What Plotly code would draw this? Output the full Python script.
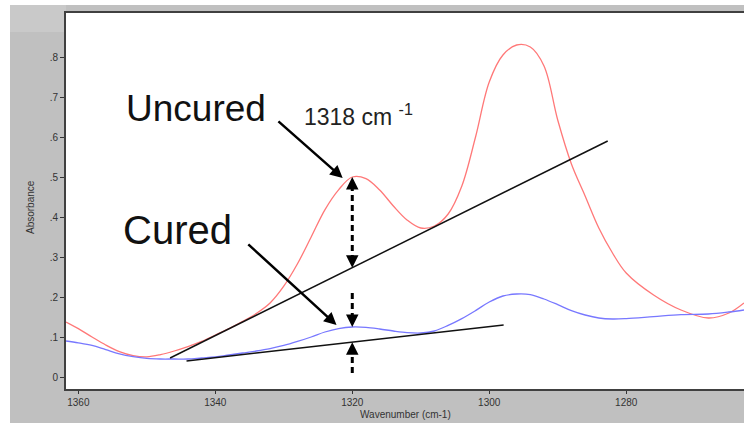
import numpy as np
import plotly.graph_objects as go

# ---------------- data ----------------
wavenumber = [1361.8, 1360, 1358, 1356, 1354, 1352, 1350, 1348, 1346, 1344, 1342, 1340,
              1338, 1336, 1334, 1332, 1330, 1328, 1326, 1324, 1322, 1320, 1318, 1316,
              1314, 1312, 1310, 1308, 1306, 1304, 1302, 1300, 1298, 1296, 1294, 1292,
              1290, 1288, 1286, 1284, 1282, 1280, 1276, 1272, 1268, 1265, 1262.8]
absorbance_uncured = [0.1375, 0.121, 0.100, 0.080, 0.0635, 0.0535, 0.0505, 0.056, 0.065,
                      0.076, 0.089, 0.105, 0.121, 0.139, 0.159, 0.185, 0.227, 0.283,
                      0.350, 0.418, 0.468, 0.500, 0.496, 0.4675, 0.4275, 0.3925, 0.3725,
                      0.3775, 0.4075, 0.4775, 0.600, 0.7375, 0.805, 0.830, 0.825, 0.7775,
                      0.6425, 0.5325, 0.4525, 0.3725, 0.310, 0.260, 0.205, 0.1675, 0.1475,
                      0.160, 0.185]
absorbance_cured = [0.090, 0.0855, 0.079, 0.0685, 0.058, 0.051, 0.0465, 0.045, 0.045,
                    0.045, 0.0475, 0.050, 0.055, 0.060, 0.065, 0.071, 0.0788, 0.0888,
                    0.100, 0.1125, 0.121, 0.125, 0.124, 0.120, 0.115, 0.111, 0.110,
                    0.115, 0.129, 0.146, 0.166, 0.1875, 0.2025, 0.2075, 0.206, 0.195,
                    0.181, 0.166, 0.155, 0.1475, 0.145, 0.146, 0.151, 0.156, 0.1575,
                    0.1625, 0.1675]

baseline_uncured_wn = [1346.6, 1282.7]
baseline_uncured_abs = [0.0475, 0.590]
baseline_cured_wn = [1344.2, 1297.9]
baseline_cured_abs = [0.040, 0.130]

band_wavenumber = 1320
x_tick_vals = [1360, 1340, 1320, 1300, 1280]
y_tick_vals = [0, 0.1, 0.2, 0.3, 0.4, 0.5, 0.6, 0.7, 0.8]
y_tick_text = ["0", ".1", ".2", ".3", ".4", ".5", ".6", ".7", ".8"]

label_uncured_pos = [1353.4, 0.672]
label_cured_pos = [1353.8, 0.367]
label_band_pos = [1327.3, 0.655]
arrow_uncured_tail = [1331.0, 0.6425]
arrow_uncured_tip = [1321.4, 0.4975]
arrow_cured_tail = [1335.4, 0.335]
arrow_cured_tip = [1322.3, 0.130]
cured_dash_top = 0.21
cured_dash_bottom = 0.01

# ---------------- derived values ----------------
def interp(wn, xs, ys):
    xs = np.asarray(xs)[::-1]
    ys = np.asarray(ys)[::-1]
    return float(np.interp(wn, xs, ys))

unc_peak = interp(band_wavenumber, wavenumber, absorbance_uncured)
unc_base = interp(band_wavenumber, baseline_uncured_wn, baseline_uncured_abs)
cur_peak = interp(band_wavenumber, wavenumber, absorbance_cured)
cur_base = interp(band_wavenumber, baseline_cured_wn, baseline_cured_abs)

fig = go.Figure()
fig.add_trace(go.Scatter(x=wavenumber, y=absorbance_uncured, mode="lines",
                         line=dict(color="#ff7878", width=1.3, shape="spline", smoothing=1.0),
                         showlegend=False))
fig.add_trace(go.Scatter(x=wavenumber, y=absorbance_cured, mode="lines",
                         line=dict(color="#7878ff", width=1.3, shape="spline", smoothing=1.0),
                         showlegend=False))
fig.add_trace(go.Scatter(x=baseline_uncured_wn, y=baseline_uncured_abs, mode="lines",
                         line=dict(color="#111111", width=1.5), showlegend=False))
fig.add_trace(go.Scatter(x=baseline_cured_wn, y=baseline_cured_abs, mode="lines",
                         line=dict(color="#111111", width=1.5), showlegend=False))

# background panels
shapes = [
    dict(type="rect", xref="paper", yref="paper", x0=(10 - 66) / 678, x1=1.01,
         y0=(389 - 423) / 376, y1=(389 - 5) / 376, fillcolor="#c0c0c0", line_width=0, layer="below"),
    dict(type="rect", xref="paper", yref="paper", x0=(10 - 66) / 678, x1=0,
         y0=(389 - 32) / 376, y1=(389 - 5) / 376, fillcolor="#c9c9c9", line_width=0, layer="below"),
    dict(type="rect", xref="paper", yref="paper", x0=0, x1=1.01, y0=0, y1=1,
         fillcolor="white", line_width=0, layer="below"),
]
dash_style = dict(color="black", width=3, dash="6px,4px")
shapes += [
    dict(type="line", xref="x", yref="y", x0=band_wavenumber, x1=band_wavenumber,
         y0=unc_peak - 0.02, y1=unc_base + 0.02, line=dash_style),
    dict(type="line", xref="x", yref="y", x0=band_wavenumber, x1=band_wavenumber,
         y0=cured_dash_top, y1=cur_peak + 0.02, line=dash_style),
    dict(type="line", xref="x", yref="y", x0=band_wavenumber, x1=band_wavenumber,
         y0=cured_dash_bottom, y1=cur_base - 0.02, line=dash_style),
]

big_font = dict(family="Arial, Liberation Sans, sans-serif", size=37, color="#111111")
annotations = [
    dict(x=label_uncured_pos[0], y=label_uncured_pos[1], text="Uncured", showarrow=False,
         xanchor="left", yanchor="middle", font=big_font),
    dict(x=label_cured_pos[0], y=label_cured_pos[1], text="Cured", showarrow=False,
         xanchor="left", yanchor="middle",
         font=dict(family="Arial, Liberation Sans, sans-serif", size=40, color="#111111")),
    dict(x=label_band_pos[0], y=label_band_pos[1], text="1318 cm <sup>-1</sup>", showarrow=False,
         xanchor="left", yanchor="middle",
         font=dict(family="Arial, Liberation Sans, sans-serif", size=23, color="#222222")),
    dict(x=arrow_uncured_tip[0], y=arrow_uncured_tip[1], ax=arrow_uncured_tail[0],
         ay=arrow_uncured_tail[1], axref="x", ayref="y", text="", showarrow=True,
         arrowhead=2, arrowsize=1, arrowwidth=2.5, arrowcolor="black"),
    dict(x=arrow_cured_tip[0], y=arrow_cured_tip[1], ax=arrow_cured_tail[0],
         ay=arrow_cured_tail[1], axref="x", ayref="y", text="", showarrow=True,
         arrowhead=2, arrowsize=1, arrowwidth=2.5, arrowcolor="black"),
]
# arrowheads of the dashed double arrows
for yv, ay in [(unc_peak, 11), (unc_base, -11), (cur_peak, -11), (cur_base, 11)]:
    annotations.append(dict(x=band_wavenumber, y=yv, ax=0, ay=ay, text="", showarrow=True,
                            arrowhead=2, arrowsize=1, arrowwidth=2.5, arrowcolor="black"))

small_font = dict(family="Liberation Sans Narrow, Arial Narrow, Liberation Sans, sans-serif",
                  size=10, color="#333333")
annotations += [
    dict(xref="paper", yref="paper", x=0.5, y=(389 - 414) / 376, text="Wavenumber (cm-1)",
         showarrow=False, xanchor="center", yanchor="middle", font=small_font),
    dict(xref="paper", yref="paper", x=(30 - 66) / 678, y=(389 - 207) / 376, text="Absorbance",
         showarrow=False, xanchor="center", yanchor="middle", textangle=-90, font=small_font),
]

fig.update_layout(
    width=744, height=428, autosize=False,
    margin=dict(l=66, r=0, t=13, b=39),
    paper_bgcolor="white", plot_bgcolor="white",
    shapes=shapes, annotations=annotations, showlegend=False,
)
fig.update_xaxes(range=[1361.8, 1262.8], tickvals=x_tick_vals, ticks="outside", ticklen=3,
                 tickcolor="#333333", showgrid=False, zeroline=False, showline=True,
                 linecolor="#404040", linewidth=2, mirror=True, tickfont=small_font)
fig.update_yaxes(range=[-0.03, 0.91], tickvals=y_tick_vals, ticktext=y_tick_text,
                 ticks="outside", ticklen=4, tickcolor="#333333", showgrid=False,
                 zeroline=False, showline=True, linecolor="#404040", linewidth=2,
                 tickfont=small_font)

fig.write_html("out.html")
